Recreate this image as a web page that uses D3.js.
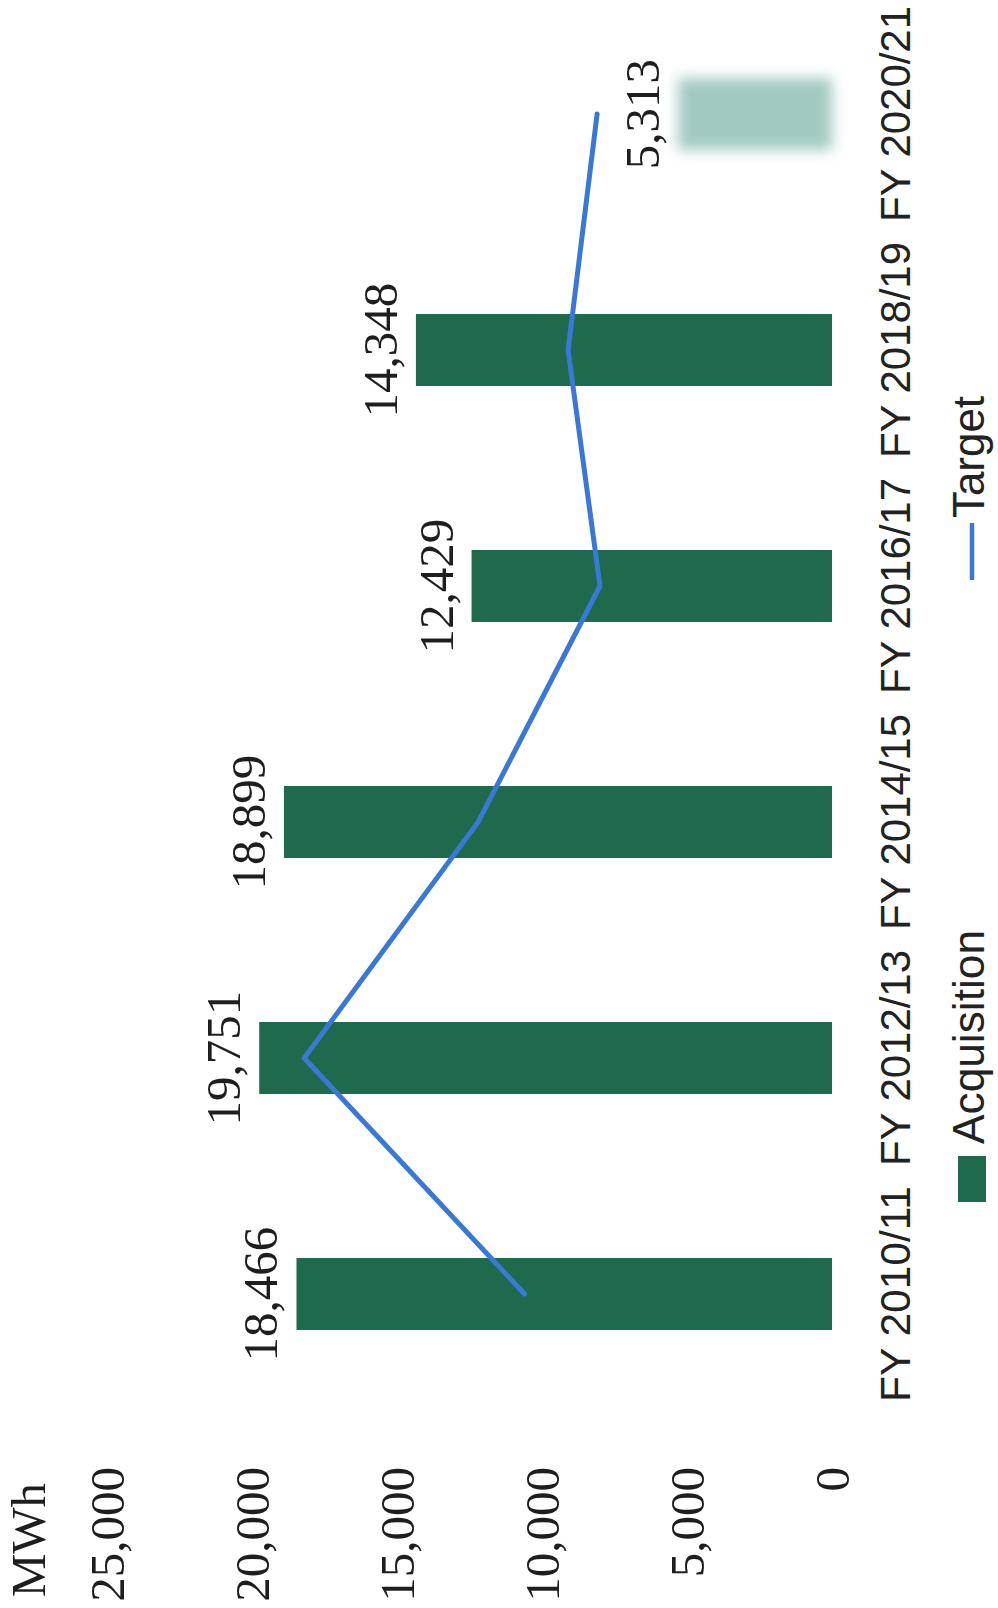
<!DOCTYPE html>
<html>
<head>
<meta charset="utf-8">
<script src="https://cdn.jsdelivr.net/npm/d3@7"></script>
<style>
  html, body { margin: 0; padding: 0; background: #fff; }
  svg { display: block; }
</style>
</head>
<body>
<svg id="chart" width="998" height="1608"></svg>
<script>
// Annual electricity acquisition (MWh) against target, by financial year
const categories = ["FY 2010/11", "FY 2012/13", "FY 2014/15", "FY 2016/17", "FY 2018/19", "FY 2020/21"];
const acquisition = [18466, 19751, 18899, 12429, 14348, 5313];
const target = [10600, 18200, 12200, 8000, 9100, 8100];
const yTicks = [0, 5000, 10000, 15000, 20000, 25000];
const unitLabel = "MWh";
const seriesNames = ["Acquisition", "Target"];
// the latest year is still provisional and shown faded
const provisionalYear = "FY 2020/21";

const barColor = "#1f6a4d";
const lineColor = "#3a78d6";
const serif = "'Liberation Serif', 'Times New Roman', serif";
const sans = "'Liberation Sans', Arial, sans-serif";

const svg = d3.select("#chart");
const H = 1608;

const defs = svg.append("defs");
defs.append("filter").attr("id", "soft")
  .attr("x", "-40%").attr("y", "-40%").attr("width", "180%").attr("height", "180%")
  .append("feGaussianBlur").attr("stdDeviation", 7);

// The chart is laid out as an ordinary column chart, then turned a quarter turn
// counter-clockwise so the categories read from bottom to top.
const g = svg.append("g").attr("transform", `translate(0,${H}) rotate(-90)`);

const x = d3.scaleBand().domain(categories).range([196, 1612])
  .paddingInner(0.695).paddingOuter(0.3475);
const y = d3.scaleLinear().domain([0, 25000]).range([832, 107]);

// condensed sans text: squeeze to a set run length
function condensed(sel, len) {
  sel.attr("textLength", len).attr("lengthAdjust", "spacingAndGlyphs");
}

// value axis labels
const yAxis = g.append("g").attr("transform", "translate(141,0)")
  .call(d3.axisLeft(y).tickValues(yTicks).tickFormat(d3.format(",")).tickSize(0).tickPadding(0));
yAxis.select(".domain").remove();
yAxis.selectAll("text")
  .attr("font-family", serif).attr("font-size", 49).attr("fill", "#1e1e1e")
  .attr("dy", "0.33em");

g.append("text").attr("x", 125).attr("y", 45)
  .attr("text-anchor", "end")
  .attr("font-family", serif).attr("font-size", 49).attr("fill", "#1e1e1e")
  .text(unitLabel);

// bars
const rows = categories.map((c, i) => ({ cat: c, value: acquisition[i], target: target[i] }));

g.append("g").selectAll("rect").data(rows).join("rect")
  .attr("x", d => x(d.cat))
  .attr("y", d => y(d.value))
  .attr("width", x.bandwidth())
  .attr("height", d => y(0) - y(d.value))
  .attr("fill", d => d.cat === provisionalYear ? "#8abcb3" : barColor)
  .attr("opacity", d => d.cat === provisionalYear ? 0.8 : 1)
  .attr("filter", d => d.cat === provisionalYear ? "url(#soft)" : null);

// value labels
g.append("g").selectAll("text").data(rows).join("text")
  .attr("x", d => x(d.cat) + x.bandwidth() / 2)
  .attr("y", d => y(d.value) - 19)
  .attr("text-anchor", "middle")
  .attr("font-family", serif).attr("font-size", 49).attr("fill", "#1e1e1e")
  .text(d => d3.format(",")(d.value));

// target line
const line = d3.line()
  .x(d => x(d.cat) + x.bandwidth() / 2)
  .y(d => y(d.target));
g.append("path").datum(rows)
  .attr("d", line)
  .attr("fill", "none")
  .attr("stroke", lineColor)
  .attr("stroke-width", 5)
  .attr("stroke-linejoin", "miter")
  .attr("stroke-linecap", "round");

// category axis
const xAxis = g.append("g").attr("transform", "translate(0,910)")
  .call(d3.axisBottom(x).tickSize(0));
xAxis.select(".domain").remove();
xAxis.selectAll("text")
  .attr("y", 0).attr("dy", 0)
  .attr("font-family", sans).attr("font-size", 43).attr("fill", "#222")
  .call(condensed, 216);

// legend
const legend = g.append("g");
legend.append("rect")
  .attr("x", 406).attr("y", 958).attr("width", 46).attr("height", 28)
  .attr("fill", barColor);
legend.append("text").attr("x", 464).attr("y", 984)
  .attr("font-family", sans).attr("font-size", 44).attr("fill", "#222")
  .text(seriesNames[0]).call(condensed, 214);
legend.append("line")
  .attr("x1", 1028).attr("x2", 1085).attr("y1", 972).attr("y2", 972)
  .attr("stroke", lineColor).attr("stroke-width", 4.5);
legend.append("text").attr("x", 1090).attr("y", 984)
  .attr("font-family", sans).attr("font-size", 44).attr("fill", "#222")
  .text(seriesNames[1]).call(condensed, 122);
</script>
</body>
</html>
